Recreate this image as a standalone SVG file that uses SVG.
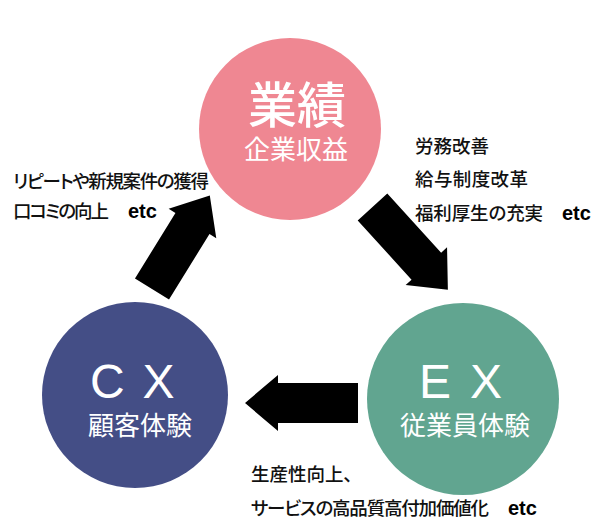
<svg xmlns="http://www.w3.org/2000/svg" width="595" height="531" viewBox="0 0 595 531">
<style>
.jp{font-family:"Noto Sans CJK JP","Noto Sans CJK SC",sans-serif;}
.lbl{font-size:18.5px;fill:#111;font-weight:500;font-feature-settings:"palt";}
.etc{font-family:"Liberation Sans",Arial,sans-serif;font-weight:bold;font-size:20px;fill:#000;}
.big{font-size:49px;fill:#fff;text-anchor:middle;font-weight:500;}
.sub{font-size:26px;fill:#fff;text-anchor:middle;}
.lat{font-family:"Liberation Sans",Arial,sans-serif;font-size:48px;fill:#fff;}
.arrow{fill:#000;}
</style>
<rect width="595" height="531" fill="#fff"/>
<g id="connectors">
<polygon class="arrow" transform="translate(152,289) rotate(-58.3)" points="0,-20 77,-20 77,-28 110,0 77,28 77,20 0,20"/>
<polygon class="arrow" transform="translate(372.5,207) rotate(47.7)" points="0,-20 80,-20 80,-28 112,0 80,28 80,20 0,20"/>
<polygon class="arrow" transform="translate(358,403) rotate(180)" points="0,-20 80,-20 80,-28 113,0 80,28 80,20 0,20"/>
</g>
<g id="node-gyoseki">
<circle cx="290" cy="129" r="91" fill="#EF8792"/>
<text class="jp big" x="297" y="123">業績</text>
<text class="jp sub" x="296" y="159">企業収益</text>
</g>
<g id="node-cx">
<circle cx="135" cy="395" r="93" fill="#444E86"/>
<text class="lat" x="90" y="398" letter-spacing="17.8">CX</text>
<text class="jp sub" x="140" y="435">顧客体験</text>
</g>
<g id="node-ex">
<circle cx="463" cy="399" r="96" fill="#61A590"/>
<text class="lat" x="419" y="398" letter-spacing="19">EX</text>
<text class="jp sub" x="465" y="435">従業員体験</text>
</g>
<g id="label-left">
<text class="jp lbl" x="13" y="188" textLength="196" lengthAdjust="spacing">リピートや新規案件の獲得</text>
<text class="jp lbl" x="13" y="218" textLength="96" lengthAdjust="spacing">口コミの向上</text>
<text class="etc" x="128" y="218">etc</text>
</g>
<g id="label-right">
<text class="jp lbl" x="415" y="153" textLength="74" lengthAdjust="spacing">労務改善</text>
<text class="jp lbl" x="415" y="186" textLength="113" lengthAdjust="spacing">給与制度改革</text>
<text class="jp lbl" x="415" y="220" textLength="128" lengthAdjust="spacing">福利厚生の充実</text>
<text class="etc" x="562" y="220">etc</text>
</g>
<g id="label-bottom">
<text class="jp lbl" x="251" y="481">生産性向上、</text>
<text class="jp lbl" x="251" y="515" textLength="238" lengthAdjust="spacing">サービスの高品質高付加価値化</text>
<text class="etc" x="508" y="515">etc</text>
</g>
</svg>
